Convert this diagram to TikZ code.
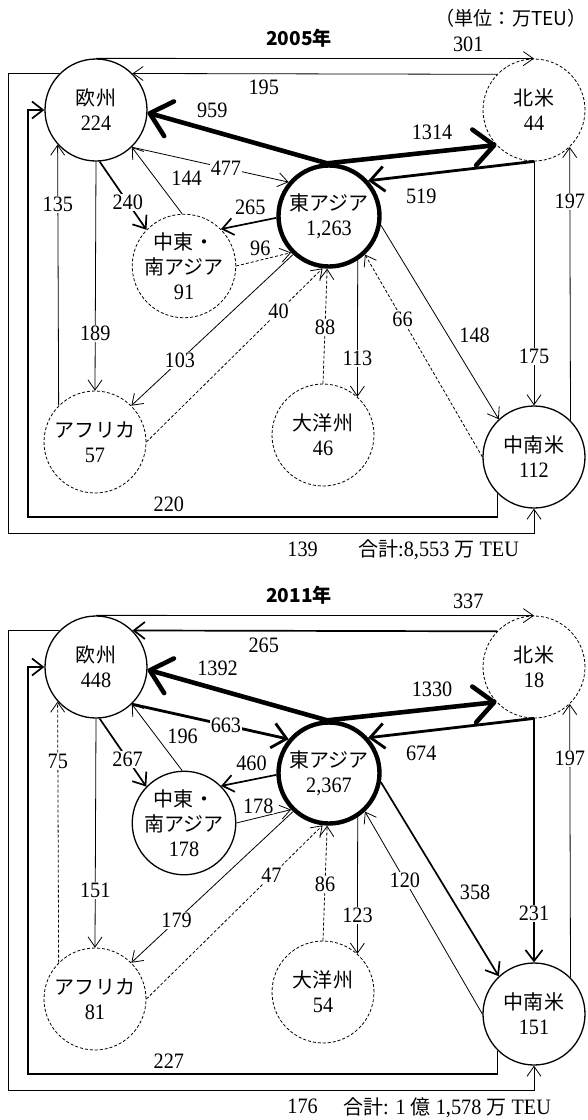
\documentclass[tikz,border=0pt]{standalone}
\usepackage{fontspec}
\setmainfont{Liberation Serif}[FakeStretch=0.92]
\newfontfamily\jp{Noto Sans CJK JP}[Scale=0.91]
\usetikzlibrary{arrows.meta}

\begin{document}
\begin{tikzpicture}[
  x=1pt, y=-1pt,
  font=\fontsize{22}{25}\selectfont,
  region/.style={circle, draw, line width=1.3pt, fill=white, minimum size=102pt, inner sep=0pt, align=center},
  faint/.style={region, line width=0.8pt, dash pattern=on 3pt off 2pt},
  hub/.style={region, line width=4.4pt, minimum size=101pt},
  flow/.style={line width=0.8pt, -{Straight Barb[length=10pt, width=14pt]}},
  weak/.style={flow, dash pattern=on 3pt off 2pt},
  midflow/.style={line width=1.7pt, -{Straight Barb[length=11pt, width=17pt]}},
  bigflow/.style={line width=2.8pt, -{Straight Barb[length=14pt, width=25pt]}},
  hugeflow/.style={line width=4.6pt, -{Straight Barb[length=20pt, width=36pt, round]}},
  num/.style={fill=white, inner sep=1pt},
  year/.style={font=\fontsize{21}{24}\selectfont\jp\bfseries}
]
\useasboundingbox (0,0) rectangle (587,1120);

% 2005
\node[anchor=east, inner sep=0pt, font=\fontsize{21}{24}\selectfont\jp] (unit) at (587,18) {（単位：万TEU）};
\node[year] (y05) at (299,38) {2005年};
\node[region] (eu) at (96,110) {{\jp 欧州}\\224};
\node[faint] (na) at (534,110) {{\jp 北米}\\44};
\node[hub] (ea) at (329,216) {{\jp 東アジア}\\1,263};
\node[faint] (me) at (184,266) {{\jp 中東・}\\{\jp 南アジア}\\91};
\node[faint] (af) at (95,442) {{\jp アフリカ}\\57};
\node[faint] (oc) at (323,435) {{\jp 大洋州}\\46};
\node[region] (la) at (534,457) {{\jp 中南米}\\112};
\node[anchor=west, inner sep=0pt] (sum05) at (358,550) {{\jp 合計}:8,553 {\jp 万} TEU};

\draw[flow] (eu.north) -- node[num, above=5pt, pos=.85] {301} (na.north);
\draw[flow] (na.136) -- node[num, below=5pt, pos=.64] {195} (eu.45);
\draw[flow] (eu.135) -| (8,533) -- node[num, below=8pt, pos=.56] {139} (534,533) -- (la.south);
\draw[midflow] (la.225) |- node[num, above=3.5pt, pos=.85] {220} (28,517) |- (eu.west);
\draw[hugeflow] (ea.92) -- node[num, above=9.5pt, pos=.64] {959} (eu.-3);
\draw[hugeflow] (ea.92) -- node[num, above=9pt, pos=.62] {1314} (na.223);
\draw[bigflow] (na.south) -- node[num, below=12pt, pos=.68] {519} (ea.42);
\draw[flow] (na.south) -- node[num, pos=.8] {175} (la.north);
\draw[flow] (la.45) -- node[num, pos=.8] {197} (na.-46);
\draw[flow] (eu.-46) -- node[num, pos=.6] {477} (ea.140);
\draw[flow] (me.92) -- node[num, right=15pt, pos=.54] {144} (eu.-46);
\draw[midflow] (eu.-86) -- node[num, pos=.6] {240} (me.136);
\draw[midflow] (ea.182) -- node[num, above=7pt, pos=.47] {265} (me.45);
\draw[weak] (me.east) -- node[num, above=3pt, pos=.44] {96} (ea.224);
\draw[flow] (af.135) -- node[num, pos=.77] {135} (eu.222);
\draw[flow] (eu.south) -- node[num, pos=.75] {189} (af.north);
\draw[flow] (ea.227) -- node[num, pos=.7] {103} (af.45);
\draw[weak] (af.east) -- node[num, pos=.75] {40} (ea.-97);
\draw[weak] (oc.north) -- node[num, pos=.49] {88} (ea.-92);
\draw[flow] (ea.-57) -- node[num, pos=.72] {113} (oc.48);
\draw[weak] (la.west) -- node[num, pos=.68] {66} (ea.-47);
\draw[flow] (ea.-10) -- node[num, right=10pt, pos=.57] {148} (la.133);

% 2011
\begin{scope}[yshift=-557pt]
\node[year] (y11) at (299,38) {2011年};
\node[region] (eu) at (96,110) {{\jp 欧州}\\448};
\node[faint] (na) at (534,110) {{\jp 北米}\\18};
\node[hub] (ea) at (329,216) {{\jp 東アジア}\\2,367};
\node[region] (me) at (184,266) {{\jp 中東・}\\{\jp 南アジア}\\178};
\node[faint] (af) at (95,442) {{\jp アフリカ}\\81};
\node[faint] (oc) at (323,435) {{\jp 大洋州}\\54};
\node[region] (la) at (534,457) {{\jp 中南米}\\151};
\node[anchor=west, inner sep=0pt] (sum11) at (343,551) {{\jp 合計}: 1 {\jp 億} 1,578 {\jp 万} TEU};

\draw[flow] (eu.north) -- node[num, above=5pt, pos=.85] {337} (na.north);
\draw[midflow] (na.136) -- node[num, below=5pt, pos=.64] {265} (eu.45);
\draw[flow] (eu.135) -| (8,533) -- node[num, below=8pt, pos=.56] {176} (534,533) -- (la.south);
\draw[midflow] (la.225) |- node[num, above=3.5pt, pos=.85] {227} (28,517) |- (eu.west);
\draw[hugeflow] (ea.92) -- node[num, above=10pt, pos=.61] {1392} (eu.-3);
\draw[hugeflow] (ea.92) -- node[num, above=9pt, pos=.62] {1330} (na.223);
\draw[bigflow] (na.south) -- node[num, below=12pt, pos=.68] {674} (ea.42);
\draw[midflow] (na.south) -- node[num, pos=.8] {231} (la.north);
\draw[flow] (la.45) -- node[num, pos=.8] {197} (na.-46);
\draw[bigflow] (eu.-46) -- node[num, pos=.6] {663} (ea.140);
\draw[flow] (me.92) -- node[num, right=10pt, pos=.52] {196} (eu.-46);
\draw[midflow] (eu.-86) -- node[num, pos=.6] {267} (me.136);
\draw[midflow] (ea.182) -- node[num, above=7pt, pos=.45] {460} (me.45);
\draw[flow] (me.east) -- node[num, above=3pt, pos=.4] {178} (ea.224);
\draw[weak] (af.135) -- node[num, pos=.77] {75} (eu.222);
\draw[flow] (eu.south) -- node[num, pos=.75] {151} (af.north);
\draw[flow] (ea.227) -- node[num, pos=.72] {179} (af.45);
\draw[weak] (af.east) -- node[num, pos=.71] {47} (ea.-97);
\draw[weak] (oc.north) -- node[num, pos=.49] {86} (ea.-92);
\draw[flow] (ea.-57) -- node[num, pos=.72] {123} (oc.48);
\draw[flow] (la.west) -- node[num, pos=.66] {120} (ea.-47);
\draw[midflow] (ea.-10) -- node[num, right=10pt, pos=.57] {358} (la.133);
\end{scope}
\end{tikzpicture}
\end{document}
